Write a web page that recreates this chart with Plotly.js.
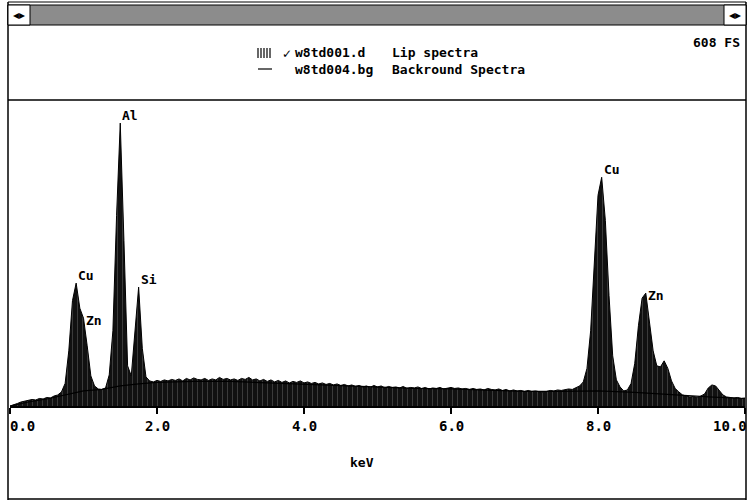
<!DOCTYPE html>
<html>
<head>
<meta charset="utf-8">
<script src="https://cdn.plot.ly/plotly-3.0.1.min.js"></script>
<style>html,body{margin:0;padding:0;background:#fff;}#chart{width:747px;height:502px;}</style>
</head>
<body>
<div id="chart"></div>
<script>
// ---- DATA ----
const keV = [
0.00,0.05,0.10,0.15,0.20,0.25,0.30,0.35,0.40,0.45,0.50,0.55,0.60,0.65,0.70,0.75,0.80,0.85,0.90,0.95,
1.00,1.05,1.10,1.15,1.20,1.25,1.30,1.35,1.40,1.45,1.50,1.55,1.60,1.65,1.70,1.75,1.80,1.85,1.90,1.95,
2.00,2.05,2.10,2.15,2.20,2.25,2.30,2.35,2.40,2.45,2.50,2.55,2.60,2.65,2.70,2.75,2.80,2.85,2.90,2.95,
3.00,3.05,3.10,3.15,3.20,3.25,3.30,3.35,3.40,3.45,3.50,3.55,3.60,3.65,3.70,3.75,3.80,3.85,3.90,3.95,
4.00,4.05,4.10,4.15,4.20,4.25,4.30,4.35,4.40,4.45,4.50,4.55,4.60,4.65,4.70,4.75,4.80,4.85,4.90,4.95,
5.00,5.05,5.10,5.15,5.20,5.25,5.30,5.35,5.40,5.45,5.50,5.55,5.60,5.65,5.70,5.75,5.80,5.85,5.90,5.95,
6.00,6.05,6.10,6.15,6.20,6.25,6.30,6.35,6.40,6.45,6.50,6.55,6.60,6.65,6.70,6.75,6.80,6.85,6.90,6.95,
7.00,7.05,7.10,7.15,7.20,7.25,7.30,7.35,7.40,7.45,7.50,7.55,7.60,7.65,7.70,7.75,7.80,7.85,7.90,7.95,
8.00,8.05,8.10,8.15,8.20,8.25,8.30,8.35,8.40,8.45,8.50,8.55,8.60,8.65,8.70,8.75,8.80,8.85,8.90,8.95,
9.00,9.05,9.10,9.15,9.20,9.25,9.30,9.35,9.40,9.45,9.50,9.55,9.60,9.65,9.70,9.75,9.80,9.85,9.90,9.95,
10.00];
const lipCounts = [
0,2,5,8,10,11,13,12,15,14,17,16,20,22,28,45,110,210,245,195,
175,120,60,40,34,33,36,62,150,380,564,330,80,60,150,237,115,58,50,48,
51,49,52,50,53,51,54,50,55,52,56,53,52,55,51,54,52,57,53,55,
52,54,51,55,53,57,52,54,50,53,49,52,48,51,47,50,46,49,47,50,
46,48,45,47,44,46,43,45,42,44,41,43,40,42,39,41,38,40,37,41,
38,40,36,39,37,38,36,39,35,37,36,38,35,37,34,36,35,37,34,36,
37,35,36,34,35,33,35,33,34,32,35,33,32,34,31,33,30,32,30,31,
29,31,29,30,28,27,29,31,30,32,31,33,34,33,36,40,48,75,150,290,
420,456,370,220,100,52,38,30,32,45,85,160,215,225,170,110,80,78,90,75,
50,35,28,22,20,18,19,17,20,24,36,42,40,30,22,18,17,16,17,15,
16];
const bgKeV    = [0, 0.25, 0.5, 0.75, 1.0, 1.25, 1.5, 1.75, 2.0, 2.5, 3.0, 3.5, 4.0, 4.5, 5.0, 5.5, 6.0, 6.5, 7.0, 7.5, 8.0, 8.5, 9.0, 9.5, 10.0];
const bgCounts = [0, 8, 14, 22, 30, 33, 40, 44, 47, 49, 49, 46, 43, 40, 37, 35, 34, 32, 29, 29, 30, 27, 22, 18, 15];
const peakLabels = ['Cu', 'Zn', 'Al', 'Si', 'Cu', 'Zn'];
const peakKeV    = [0.90, 1.00, 1.50, 1.75, 8.05, 8.65];
const peakCounts = [245, 175, 564, 237, 456, 225];
const tickVals   = [0, 2, 4, 6, 8, 10];
const tickText   = ['0.0', '2.0', '4.0', '6.0', '8.0', '10.0'];
const fileNames  = ['w8td001.d', 'w8td004.bg'];
const seriesNames = ['Lip spectra', 'Backround Spectra'];
const fullScale  = 608;

// ---- STYLE / LAYOUT ----
const FONT = 'DejaVu Sans Mono, Liberation Mono, monospace';
const PL = 10, PR = 745, PT = 101, PB = 406;       // plot area in pixels
const px = v => (v - PL) / (PR - PL);               // pixel -> paper x
const py = v => (PB - v) / (PB - PT);               // pixel -> paper y

const traces = [
  {
    x: keV, y: lipCounts, type: 'scatter', mode: 'lines', name: fileNames[0],
    line: {color: '#000', width: 1},
    fill: 'tozeroy', fillcolor: '#111',
    fillpattern: {shape: '|', fillmode: 'overlay', fgcolor: '#9c9c9c', bgcolor: '#111', size: 5, solidity: 0.12},
    hoverinfo: 'skip'
  },
  {
    x: bgKeV, y: bgCounts, type: 'scatter', mode: 'lines', name: fileNames[1],
    line: {color: '#000', width: 1.2}, hoverinfo: 'skip'
  }
];

const shapes = [];
const annotations = [];
function pline(x0, y0, x1, y1, w) {
  shapes.push({type: 'line', xref: 'paper', yref: 'paper', x0: px(x0), y0: py(y0), x1: px(x1), y1: py(y1),
               line: {color: '#000', width: w || 1.5}});
}
function prect(x0, y0, x1, y1, fill, w) {
  shapes.push({type: 'rect', xref: 'paper', yref: 'paper', x0: px(x0), y0: py(y0), x1: px(x1), y1: py(y1),
               fillcolor: fill, line: {color: '#000', width: w || 1}, layer: 'above'});
}
function ptext(text, x, y, xanchor, size, family, extra) {
  annotations.push(Object.assign({text: text, xref: 'paper', yref: 'paper', x: px(x), y: py(y), xanchor: xanchor || 'left',
                    yanchor: 'middle', showarrow: false, align: 'left',
                    font: {family: family || FONT, size: size || 13, color: '#000'}}, extra || {}));
}

// window frame
pline(8, 2, 8, 500, 1.5);
pline(746, 2, 746, 500, 1.5);
pline(8, 499, 746, 499, 1.5);
pline(8, 2, 746, 2, 1);
// scroll bar
prect(8, 5, 746, 25, '#8c8c8c', 1);
prect(8, 5, 30, 25, '#fff', 1);
prect(724, 5, 746, 25, '#fff', 1);
ptext('◂▸', 19, 15, 'center', 12, 'DejaVu Sans');
ptext('◂▸', 735, 15, 'center', 12, 'DejaVu Sans');
// separator under header
pline(8, 100, 746, 100, 1.5);

// header texts
ptext('<b>608 FS</b>', 742, 43, 'right');
for (let i = 0; i < 5; i++) pline(258 + i * 3, 48, 258 + i * 3, 58, 1.2);
ptext('✓', 287, 54, 'center', 12, 'DejaVu Sans');
pline(258, 69, 272, 69, 1.2);
ptext('<b>' + fileNames.join('<br>') + '</b>', 293, 61, 'left');
ptext('<b>' + seriesNames.join('<br>') + '</b>', 390, 61, 'left');
ptext('<b>keV</b>', 362, 462, 'center', 13);

// tick labels (edge labels pulled inward, as on the instrument screen)
tickVals.forEach((v, i) => {
  const anchor = i === 0 ? 'left' : (i === tickVals.length - 1 ? 'right' : 'center');
  const xs = i === 0 ? -2 : (i === tickVals.length - 1 ? 4 : 0);
  annotations.push({text: '<b>' + tickText[i] + '</b>', x: v, xref: 'x', y: py(426), yref: 'paper',
    xanchor: anchor, yanchor: 'middle', xshift: xs, showarrow: false,
    font: {family: FONT, size: 14, color: '#000'}});
});

// peak labels
const labelAnchor = ['bottom', 'middle', 'bottom', 'bottom', 'bottom', 'middle'];
peakLabels.forEach((t, i) => {
  annotations.push({text: '<b>' + t + '</b>', x: peakKeV[i], y: peakCounts[i], xref: 'x', yref: 'y',
    xanchor: 'left', yanchor: labelAnchor[i], showarrow: false, yshift: -2,
    font: {family: FONT, size: 13, color: '#000'}});
});

const layout = {
  width: 747, height: 502,
  margin: {l: PL, r: 747 - PR, t: PT, b: 502 - PB, pad: 0},
  paper_bgcolor: '#fff', plot_bgcolor: '#fff',
  showlegend: false,
  xaxis: {
    range: [0, 10], tickvals: tickVals, showticklabels: false,
    ticks: 'outside', ticklen: 6, tickwidth: 2, tickcolor: '#000',
    showline: true, linewidth: 2, linecolor: '#000', mirror: false,
    showgrid: false, zeroline: false
  },
  yaxis: {range: [0, fullScale], visible: false, showgrid: false, zeroline: false},
  shapes: shapes,
  annotations: annotations
};

Plotly.newPlot('chart', traces, layout, {displayModeBar: false, staticPlot: true});
</script>
</body>
</html>
